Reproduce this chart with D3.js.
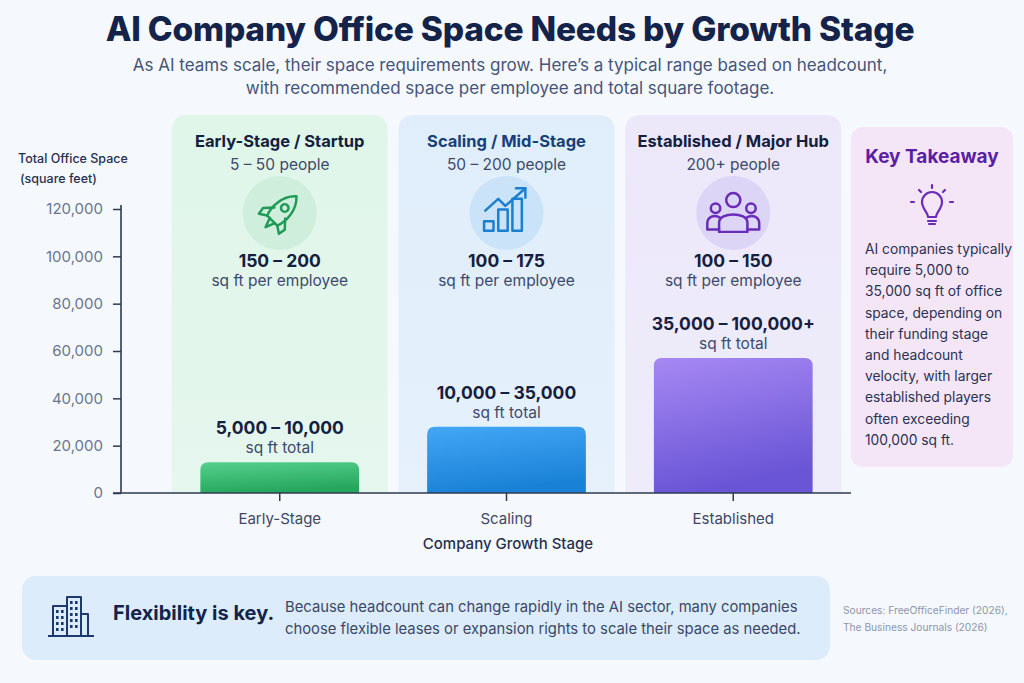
<!DOCTYPE html>
<html><head><meta charset="utf-8">
<script src="https://cdn.jsdelivr.net/npm/d3@7"></script>
<style>
html,body{margin:0;padding:0;background:#f5f8fc;}
svg{display:block;font-family:Inter,"Noto Sans",sans-serif;}
</style></head>
<body>
<svg id="chart" width="1024" height="683"></svg>
<script>
// ---- data ----
const stages = ["Early-Stage", "Scaling", "Established"];
const stageTitles = ["Early-Stage / Startup", "Scaling / Mid-Stage", "Established / Major Hub"];
const headcounts = ["5 – 50 people", "50 – 200 people", "200+ people"];
const perEmployee = ["150 – 200", "100 – 175", "100 – 150"];
const totalLabels = ["5,000 – 10,000", "10,000 – 35,000", "35,000 – 100,000+"];
const barValues = [13000, 28000, 57000];
const yTicks = [0, 20000, 40000, 60000, 80000, 100000, 120000];
const takeawayLines = ["AI companies typically","require 5,000 to","35,000 sq ft of office","space, depending on","their funding stage","and headcount","velocity, with larger","established players","often exceeding","100,000 sq ft."];

const panelFill = ["#e0f6e9", "#e0eefb", "#ece8fa"];
const iconBg = ["#cfefdc", "#cbe3f8", "#ddd5f5"];
const iconColor = ["#1f9a57", "#1a7fcf", "#6a2bb8"];
const barTop = ["#55d08d", "#43a6f6", "#a688f3"];
const barBot = ["#25a65d", "#1a82d6", "#6a55d6"];

const svg = d3.select("#chart");
const defs = svg.append("defs");
barTop.forEach((c,i)=>{
  const g = defs.append("linearGradient").attr("id","bg"+i).attr("x1",0).attr("y1",0).attr("x2",0.25).attr("y2",1);
  g.append("stop").attr("offset","0%").attr("stop-color",c);
  g.append("stop").attr("offset","100%").attr("stop-color",barBot[i]);
  const p = defs.append("linearGradient").attr("id","pg"+i).attr("x1",0).attr("y1",0).attr("x2",0).attr("y2",1);
  p.append("stop").attr("offset","0%").attr("stop-color",panelFill[i]);
  p.append("stop").attr("offset","100%").attr("stop-color",panelFill[i]).attr("stop-opacity",0.75);
});

// scales
const y = d3.scaleLinear().domain([0,120000]).range([493,209]);
const x = d3.scaleBand().domain(stages).range([87,926]).paddingInner(0.3).paddingOuter(0.5);
const cx = d => x(d) + x.bandwidth()/2;

// title
svg.append("text").attr("x",510).attr("y",41).attr("text-anchor","middle")
  .attr("font-size",33.5).attr("font-weight",800).attr("fill","#14234a").attr("letter-spacing","-0.2")
  .text("AI Company Office Space Needs by Growth Stage");
svg.append("text").attr("x",510).attr("y",71).attr("text-anchor","middle").attr("font-size",17).attr("fill","#46557a")
  .text("As AI teams scale, their space requirements grow. Here’s a typical range based on headcount,");
svg.append("text").attr("x",510).attr("y",94).attr("text-anchor","middle").attr("font-size",17).attr("fill","#46557a")
  .text("with recommended space per employee and total square footage.");

// panels
const panelW = x.step()*0.953;
stages.forEach((s,i)=>{
  const c = cx(s);
  const top = 115, bot = y(0);
  const x0 = c - panelW/2, r = 16;
  svg.append("path")
    .attr("d",`M${x0},${bot} L${x0},${top+r} Q${x0},${top} ${x0+r},${top} L${x0+panelW-r},${top} Q${x0+panelW},${top} ${x0+panelW},${top+r} L${x0+panelW},${bot} Z`)
    .attr("fill",`url(#pg${i})`);
  svg.append("text").attr("x",c).attr("y",147).attr("text-anchor","middle").attr("font-size",16.5).attr("font-weight",700)
    .attr("fill", i===1 ? "#173f7a" : "#15203f").text(stageTitles[i]);
  svg.append("text").attr("x",c).attr("y",170).attr("text-anchor","middle").attr("font-size",15.5).attr("fill","#3d4a6b").text(headcounts[i]);
  svg.append("circle").attr("cx",c).attr("cy",213).attr("r",37).attr("fill",iconBg[i]);
  svg.append("text").attr("x",c).attr("y",267).attr("text-anchor","middle").attr("font-size",17.5).attr("font-weight",700).attr("fill","#15203f").text(perEmployee[i]);
  svg.append("text").attr("x",c).attr("y",286).attr("text-anchor","middle").attr("font-size",15.5).attr("fill","#3d4a6b").text("sq ft per employee");
});

// icons
function iconG(i){ return svg.append("g").attr("transform",`translate(${cx(stages[i])},213) scale(1.18)`)
  .attr("fill","none").attr("stroke",iconColor[i]).attr("stroke-width",2.1).attr("stroke-linecap","round").attr("stroke-linejoin","round"); }
// rocket
{
  const g = iconG(0).append("g").attr("transform","rotate(45)");
  g.append("path").attr("d","M0,-20 C9,-12 9,2 6,9 L-6,9 C-9,2 -9,-12 0,-20 Z");
  g.append("circle").attr("cx",0).attr("cy",-6).attr("r",3.2);
  g.append("path").attr("d","M-6.5,0 L-13,7 L-12,13 L-6,9");
  g.append("path").attr("d","M6.5,0 L13,7 L12,13 L6,9");
  g.append("path").attr("d","M-3,9 L0,17 L3,9");
}
// growth chart
{
  const g = iconG(1);
  g.append("rect").attr("x",-19).attr("y",7).attr("width",8).attr("height",8);
  g.append("rect").attr("x",-7).attr("y",-3).attr("width",8).attr("height",18);
  g.append("rect").attr("x",5).attr("y",-12).attr("width",8).attr("height",27);
  g.append("path").attr("d","M-18,-2 L-7,-12 L-1,-6 L16,-21");
  g.append("path").attr("d","M8,-21 L16,-21 L16,-13");
}
// people
{
  const g = iconG(2);
  g.append("circle").attr("cx",0).attr("cy",-11).attr("r",6);
  g.append("path").attr("d","M-12,16 L-12,8 C-12,-1 12,-1 12,8 L12,16 Z");
  g.append("circle").attr("cx",-15).attr("cy",-4).attr("r",4);
  g.append("circle").attr("cx",15).attr("cy",-4).attr("r",4);
  g.append("path").attr("d","M-12,14 L-22,14 L-22,9 C-22,3 -16,1 -11,4");
  g.append("path").attr("d","M12,14 L22,14 L22,9 C22,3 16,1 11,4");
}

// bars
svg.selectAll("path.bar").data(stages).join("path").attr("class","bar")
  .attr("d",(s,i)=>{ const x0=x(s), w=x.bandwidth(), t=y(barValues[i]), b=y(0), r=8;
    return `M${x0},${b} L${x0},${t+r} Q${x0},${t} ${x0+r},${t} L${x0+w-r},${t} Q${x0+w},${t} ${x0+w},${t+r} L${x0+w},${b} Z`; })
  .attr("fill",(s,i)=>`url(#bg${i})`);
stages.forEach((s,i)=>{
  const t = y(barValues[i]);
  svg.append("text").attr("x",cx(s)).attr("y",t-28).attr("text-anchor","middle").attr("font-size",17.5).attr("font-weight",700).attr("fill","#15203f").text(totalLabels[i]);
  svg.append("text").attr("x",cx(s)).attr("y",t-9).attr("text-anchor","middle").attr("font-size",15.5).attr("fill","#3d4a6b").text("sq ft total");
});

// axes
const yAxis = svg.append("g").attr("transform","translate(121,0)")
  .call(d3.axisLeft(y).tickValues(yTicks).tickFormat(d3.format(",")).tickSize(8).tickPadding(10).tickSizeOuter(0));
yAxis.select(".domain").attr("stroke","#2f3a52").attr("stroke-width",1.6).attr("d","M0,205V493");
yAxis.selectAll(".tick line").attr("stroke","#2f3a52").attr("stroke-width",1.5);
yAxis.selectAll(".tick text").attr("font-size",15).attr("fill","#6b7590").attr("font-family","Inter,sans-serif");

const xAxis = svg.append("g").attr("transform",`translate(0,${y(0)})`)
  .call(d3.axisBottom(x).tickSize(8).tickPadding(12).tickSizeOuter(0));
xAxis.select(".domain").attr("stroke","#2f3a52").attr("stroke-width",1.6).attr("d","M113,0H851");
xAxis.selectAll(".tick line").attr("stroke","#2f3a52").attr("stroke-width",1.5);
xAxis.selectAll(".tick text").attr("font-size",15).attr("fill","#3d4866").attr("font-family","Inter,sans-serif");

svg.append("text").attr("x",18).attr("y",163).attr("font-size",12.5).attr("font-weight",500).attr("fill","#26324f").text("Total Office Space");
svg.append("text").attr("x",20).attr("y",183).attr("font-size",12.5).attr("font-weight",500).attr("fill","#26324f").text("(square feet)");
svg.append("text").attr("x",508).attr("y",549).attr("text-anchor","middle").attr("font-size",15).attr("font-weight",500).attr("fill","#26324f").text("Company Growth Stage");

// key takeaway
svg.append("rect").attr("x",851).attr("y",127).attr("width",162).attr("height",340).attr("rx",12).attr("fill","#f4e6f6");
svg.append("text").attr("x",932).attr("y",163).attr("text-anchor","middle").attr("font-size",19).attr("font-weight",700).attr("fill","#5a1fa6").text("Key Takeaway");
{
  const g = svg.append("g").attr("transform","translate(932,208)").attr("fill","none").attr("stroke","#6a2bb8").attr("stroke-width",2.2).attr("stroke-linecap","round").attr("stroke-linejoin","round");
  g.append("path").attr("d","M-4,9 C-4,4 -10,1 -10,-6 A10,10 0 0 1 10,-6 C10,1 4,4 4,9 Z");
  g.append("path").attr("d","M-4,13 L4,13 M-3,16 L3,16");
  g.append("path").attr("d","M0,-20 L0,-23 M-11,-16 L-13,-18 M11,-16 L13,-18 M-18,-6 L-21,-6 M18,-6 L21,-6");
}
svg.append("g").selectAll("text").data(takeawayLines).join("text")
  .attr("x",865).attr("y",(d,i)=>254+i*21.2).attr("font-size",13.8).attr("fill","#2b3252").text(d=>d);

// bottom banner
svg.append("rect").attr("x",22).attr("y",576).attr("width",808).attr("height",84).attr("rx",14).attr("fill","#dcecfb");
{
  const g = svg.append("g").attr("transform","translate(71,616)").attr("fill","none").attr("stroke","#1c3a6e").attr("stroke-width",2).attr("stroke-linejoin","round");
  g.append("path").attr("d","M-23,20 L23,20");
  g.append("rect").attr("x",-18).attr("y",-10).attr("width",14).attr("height",30);
  g.append("rect").attr("x",-4).attr("y",-19).attr("width",14).attr("height",39);
  g.append("rect").attr("x",10).attr("y",-2).attr("width",7).attr("height",22);
  const w = g.append("g").attr("stroke","none").attr("fill","#1c3a6e");
  [[-15,-6],[-10,-6],[-15,0],[-10,0],[-15,6],[-10,6],[-15,12],[-10,12],[-1,-15],[4,-15],[-1,-9],[4,-9],[-1,-3],[4,-3],[-1,3],[4,3],[-1,9],[4,9]]
    .forEach(p=>w.append("rect").attr("x",p[0]).attr("y",p[1]).attr("width",2.6).attr("height",3));
}
svg.append("text").attr("x",113).attr("y",620).attr("font-size",20).attr("font-weight",700).attr("fill","#14234a").text("Flexibility is key.");
svg.append("text").attr("x",285).attr("y",612).attr("font-size",14.8).attr("fill","#3a4767").text("Because headcount can change rapidly in the AI sector, many companies");
svg.append("text").attr("x",285).attr("y",634).attr("font-size",14.8).attr("fill","#3a4767").text("choose flexible leases or expansion rights to scale their space as needed.");
svg.append("text").attr("x",843).attr("y",614).attr("font-size",10.2).attr("fill","#8d96ab").text("Sources: FreeOfficeFinder (2026),");
svg.append("text").attr("x",843).attr("y",631).attr("font-size",10.2).attr("fill","#8d96ab").text("The Business Journals (2026)");
</script>
</body></html>
